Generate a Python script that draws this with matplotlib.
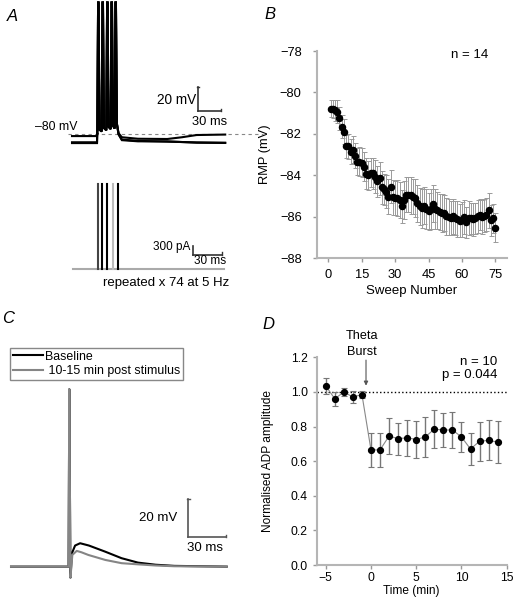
import matplotlib
matplotlib.use('Agg')
import matplotlib.pyplot as plt
from matplotlib.lines import Line2D

# ---- data ----
# A: theta-burst, voltage (ms, mV)
a_spike_t = [35.9, 41.9, 48.2, 54.2, 59.6]
a_spike_peak = 33
a_trough = [-79, -77.5, -76.5, -75.5, -75]
a_step_t = 34.1
a_sweep_base = [-81.5, -86.8, -87.5]
a_post_t = [61.5, 63.5, 68, 90, 130, 150, 170, 209]
a_post_v = [[-72, -79, -82.5, -83.8, -84.0, -82.5, -80.6, -80.2],
            [-72, -80, -84.5, -85.6, -86.3, -86.6, -86.9, -87.2],
            [-72, -80, -85.0, -86.0, -86.0, -86.6, -87.2, -87.4]]
# A: injected current (ms, pA)
i_pulse_t = [26.5, 31.4, 36.7, 42.7, 48.0]
i_pulse_amp = 2850
i_end = 160

# B: RMP per sweep
sweep = list(range(1, 76))
rmp = [-80.78, -80.80, -80.86, -80.94, -81.26, -81.66, -81.90, -82.60, -82.60, -82.86,
       -82.78, -83.06, -83.34, -83.34, -83.40, -83.60, -83.94, -84.00, -83.88, -83.90,
       -84.07, -84.30, -84.15, -84.58, -84.68, -84.80, -85.03, -84.55, -85.06, -85.10,
       -85.10, -85.20, -85.50, -85.20, -84.95, -84.95, -84.98, -85.03, -85.10, -85.35,
       -85.50, -85.60, -85.48, -85.64, -85.75, -85.64, -85.38, -85.64, -85.70, -85.78,
       -85.83, -85.83, -85.99, -86.02, -86.07, -85.99, -86.07, -86.12, -86.20, -86.15,
       -86.02, -86.28, -86.07, -86.07, -86.12, -86.07, -85.99, -85.91, -86.02, -85.96,
       -85.91, -85.70, -86.18, -86.07, -86.55]
rmp_sem = [0.40, 0.45, 0.50, 0.55, 0.55, 0.55, 0.60, 0.55, 0.60, 0.60,
           0.65, 0.60, 0.65, 0.70, 0.70, 0.70, 0.75, 0.70, 0.70, 0.75,
           0.80, 0.75, 0.80, 0.80, 0.75, 0.80, 0.85, 0.80, 0.85, 0.80,
           0.85, 0.85, 0.80, 0.90, 0.85, 0.85, 0.90, 0.85, 0.90, 0.90,
           0.90, 0.95, 0.90, 0.95, 0.90, 0.95, 0.90, 0.95, 0.90, 0.85,
           0.90, 0.85, 0.90, 0.85, 0.80, 0.85, 0.80, 0.85, 0.80, 0.85,
           0.80, 0.75, 0.80, 0.75, 0.80, 0.75, 0.80, 0.75, 0.80, 0.80,
           0.80, 0.85, 0.75, 0.70, 0.70]

# C: ADP traces (ms, mV relative to rest)
c_t_base = [0, 45.8, 46.4, 47.3, 48.5, 51, 55, 62, 75, 88, 101, 115, 130, 171.7]
c_v_base = [0, 0, 92.5, -5.7, 7, 11, 12.2, 11, 7.8, 4.4, 2.1, 1.0, 0.4, 0]
c_t_post = [0, 45.8, 46.4, 47.3, 48.8, 52.3, 56, 61.5, 75, 88, 101, 115, 130, 171.7]
c_v_post = [0, 0, 92.5, -5.7, 6.1, 8.2, 7.5, 6.1, 3.5, 1.8, 1.2, 0.6, 0.2, 0]

# D: normalised ADP amplitude
time_d = [-5, -4, -3, -2, -1, 0, 1, 2, 3, 4, 5, 6, 7, 8, 9, 10, 11, 12, 13, 14]
adp = [1.035, 0.96, 1.0, 0.97, 0.985, 0.665, 0.665, 0.745, 0.73, 0.735,
       0.725, 0.74, 0.785, 0.78, 0.78, 0.74, 0.67, 0.715, 0.72, 0.71]
adp_err = [0.048, 0.04, 0.025, 0.035, 0.02, 0.10, 0.096, 0.103, 0.093, 0.103,
           0.108, 0.115, 0.109, 0.098, 0.103, 0.087, 0.09, 0.114, 0.115, 0.122]

plt.rcParams['font.family'] = ['Liberation Sans', 'DejaVu Sans']
plt.rcParams['font.size'] = 9.5

W, H = 515, 607
fig = plt.figure(figsize=(W / 100, H / 100), dpi=100)


def box(x0, y0, x1, y1):
    return [x0 / W, 1 - y1 / H, (x1 - x0) / W, (y1 - y0) / H]


def scalebar(ax, x, y, dx, dy, cap_x, cap_y, color='#333333'):
    ax.plot([x, x], [y, y + dy], color=color, lw=1.2)
    ax.plot([x, x + dx], [y, y], color=color, lw=1.2)
    ax.plot([x - cap_x, x + cap_x], [y + dy, y + dy], color=color, lw=1)
    ax.plot([x + dx, x + dx], [y, y + cap_y], color=color, lw=1)


# ---------- A: voltage ----------
axv = fig.add_axes(box(60, 0, 265, 160))
axv.set_xlim(-16.4, 263.3)
axv.set_ylim(-102, 35.1)
axv.axis('off')
axv.plot([-5, 260], [-80, -80], color='#888888', lw=0.8, dashes=(3, 3))
burst_t, burst_v = [], []
for ts, tr in zip(a_spike_t, a_trough):
    burst_t += [ts - 1.4, ts - 0.3, ts + 0.3, ts + 1.6]
    burst_v += [tr, a_spike_peak, a_spike_peak, tr + 3]
for base, post in zip(a_sweep_base, a_post_v):
    t = [0, a_step_t, a_step_t + 0.3] + burst_t + a_post_t
    v = [base, base, a_trough[0]] + burst_v + post
    axv.plot(t, v, color='black', lw=1.5, solid_joinstyle='miter')
scalebar(axv, 172.3, -59.8, 31, 20, 1.5, 1.5)
axv.text(170, -50.6, '20 mV', ha='right', va='center', fontsize=9.8)
axv.text(187.6, -69.2, '30 ms', ha='center', va='center', fontsize=9.3)
axv.text(6.8, -74, '\u201380 mV', ha='right', va='center', fontsize=8.8)

# ---------- A: current ----------
axi = fig.add_axes(box(60, 170, 265, 290))
axi.set_xlim((60 - 72.7) / 0.944, (265 - 72.7) / 0.944)
axi.set_ylim(-690, 3310)
axi.axis('off')
axi.plot([0, i_end], [0, 0], color='#aaaaaa', lw=1.5)
pulse_cols = ['#444444', 'black', 'black', '#bbbbbb', 'black']
for tp, col in zip(i_pulse_t, pulse_cols):
    axi.plot([tp, tp], [0, i_pulse_amp], color=col, lw=1.5)
scalebar(axi, 127.8, 480, 30, 300, 0, 100)
axi.text(124.3, 743, '300 pA', ha='right', va='center', fontsize=8.5)
axi.text(145.4, 277, '30 ms', ha='center', va='center', fontsize=8.5)
axi.text(98.6, -467, 'repeated x 74 at 5 Hz', ha='center', va='center')


def style_axes(ax, xpad, ypad, size):
    for s in ['top', 'right']:
        ax.spines[s].set_visible(False)
    for s in ['left', 'bottom']:
        ax.spines[s].set_color('#b5b5b5')
        ax.spines[s].set_linewidth(1.5)
    ax.tick_params(direction='out', length=3, width=1, color='#999999',
                   labelsize=size)
    ax.tick_params(axis='x', pad=xpad)
    ax.tick_params(axis='y', pad=ypad)


# ---------- B ----------
axb = fig.add_axes(box(317, 51, 507, 258))
style_axes(axb, 5, 8, 9.3)
axb.errorbar(sweep, rmp, yerr=rmp_sem, fmt='none', ecolor='#9a9a9a',
             elinewidth=0.7, capsize=1.8, capthick=0.7)
axb.plot(sweep, rmp, 'o', color='black', ms=4.4)
axb.set_xlim(-5.07, 80.24)
axb.set_ylim(-88, -78)
axb.set_xticks([0, 15, 30, 45, 60, 75])
axb.set_yticks([-88, -86, -84, -82, -80, -78])
axb.set_xlabel('Sweep Number', fontsize=9.5)
axb.set_ylabel('RMP (mV)', fontsize=9.3)
axb.yaxis.set_label_coords(-0.242, 0.5)
axb.xaxis.set_label_coords(0.5, -0.13)
axb.text(63.6, -78.2, 'n = 14', ha='center', va='center')

# ---------- C ----------
axc = fig.add_axes(box(5, 330, 260, 600))
axc.set_xlim(-4.8, 198.2)
axc.set_ylim(-17.4, 123.4)
axc.axis('off')
axc.plot(c_t_base, c_v_base, color='black', lw=1.5)
axc.plot(c_t_post, c_v_post, color='#858585', lw=1.5)
scalebar(axc, 141.2, 15.3, 30, 20, 1.2, 1.2, color='#555555')
axc.text(132.5, 25.2, '20 mV', ha='right', va='center')
axc.text(154.5, 9.6, '30 ms', ha='center', va='center')
handles = [Line2D([], [], color='black', lw=1.5),
           Line2D([], [], color='#858585', lw=1.5)]
axc.legend(handles, ['Baseline', ' 10-15 min post stimulus'], loc='upper left',
           bbox_to_anchor=(10 / W, 1 - 347.7 / H), bbox_transform=fig.transFigure,
           fancybox=False, edgecolor='#888888', framealpha=1, borderaxespad=0,
           fontsize=8.9, handlelength=2.4, handletextpad=0.15, borderpad=0.25,
           labelspacing=0.2)

# ---------- D ----------
axd = fig.add_axes(box(316.7, 357.3, 506.7, 565))
style_axes(axd, 2, 3.4, 8.7)
axd.axhline(1.0, color='black', lw=1, ls=':')
axd.plot(time_d, adp, color='#888888', lw=0.8)
axd.errorbar(time_d, adp, yerr=adp_err, fmt='none', ecolor='#777777',
             elinewidth=1, capsize=2, capthick=0.8)
axd.plot(time_d, adp, 'o', color='black', ms=4.2)
axd.set_xlim(-6, 15)
axd.set_ylim(0, 1.2)
axd.set_xticks([-5, 0, 5, 10, 15])
axd.set_yticks([0, 0.2, 0.4, 0.6, 0.8, 1.0, 1.2])
axd.set_yticklabels(['%.1f' % v for v in [0, 0.2, 0.4, 0.6, 0.8, 1.0, 1.2]])
axd.set_xlabel('Time (min)', fontsize=8.6)
axd.set_ylabel('Normalised ADP amplitude', fontsize=8.6)
axd.yaxis.set_label_coords(-0.225, 0.5)
axd.xaxis.set_label_coords(0.5, -0.096)
axd.annotate('', xy=(-0.55, 1.02), xytext=(-0.55, 1.2),
             arrowprops=dict(arrowstyle='-|>', color='#555555', lw=0.8,
                             mutation_scale=6), annotation_clip=False)
axd.text(-1.0, 1.277, 'Theta\nBurst', ha='center', va='center', fontsize=9.1,
         linespacing=1.35, clip_on=False)
axd.text(13.93, 1.175, 'n = 10', ha='right', va='center')
axd.text(13.93, 1.098, 'p = 0.044', ha='right', va='center')

# panel letters
for lbl, x, y in [('A', 7, 9), ('B', 264, 7), ('C', 2, 311), ('D', 262, 317)]:
    fig.text(x / W, 1 - y / H, lbl, ha='left', va='top', fontsize=12,
             style='italic')

fig.savefig('out.png', dpi=100)
